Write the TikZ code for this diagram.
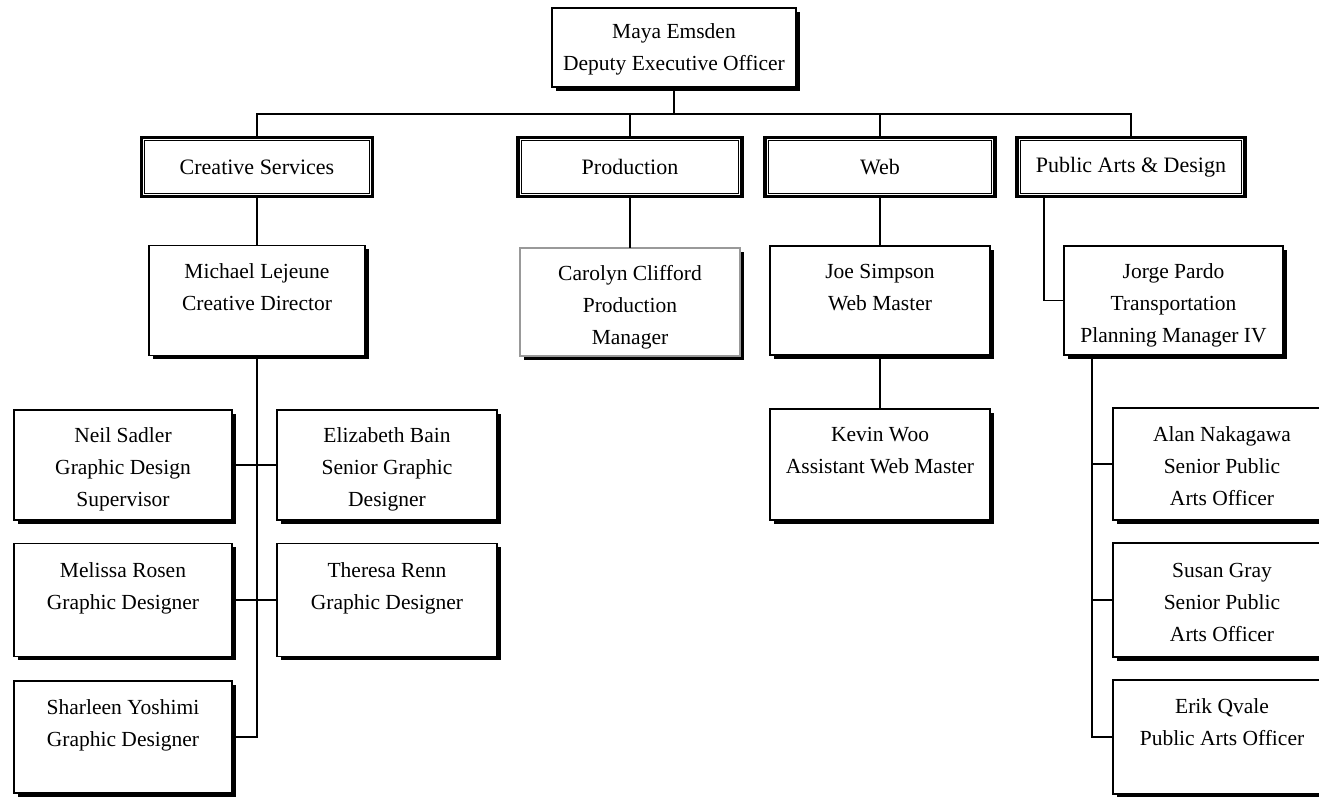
\documentclass[tikz,border=0pt]{standalone}
\usepackage{fontspec}
\setmainfont{Liberation Serif}
\usetikzlibrary{shadows}
\newcommand\ptx[1]{\parbox[t]{240pt}{\centering\fontsize{21.5}{32}\selectfont #1}}
\tikzset{
  pbox/.style={draw=black, line width=1.6pt, fill=white, rectangle, inner sep=0pt,
    drop shadow={shadow xshift=3.5pt, shadow yshift=-3.5pt, fill=black, opacity=1}},
  gbox/.style={pbox, draw=black!40, line width=2.4pt},
  dbox/.style={draw=black, line width=3.2pt, fill=white, rectangle, inner sep=0pt,
    font=\fontsize{22}{32}\selectfont},
  ptext/.style={anchor=base, inner sep=0pt},
  conn/.style={line width=1.8pt, line cap=rect}
}
\newcommand\inner[1]{\draw[line width=1pt] ([shift={(5pt,-5pt)}]#1.north west) rectangle ([shift={(-5pt,5pt)}]#1.south east);}
\begin{document}
\begin{tikzpicture}[x=1pt,y=-1pt]
\clip (0,0) rectangle (1319,796);
\fill[white] (0,0) rectangle (1319,796);
\coordinate (busy) at (0,114);
\coordinate (padx) at (1044,0);
\coordinate (rvx) at (1092,0);

% top
\node[pbox, minimum width=244pt, minimum height=79pt] (maya) at (674,47.5) {};
\node[ptext] (mayat) at (674,38) {\ptx{Maya Emsden\\Deputy Executive Officer}};

% level 1
\node[dbox, minimum width=231pt, minimum height=59pt] (cs) at (257,167) {Creative Services};
\node[dbox, minimum width=224pt, minimum height=59pt] (prod) at (630,167) {Production};
\node[dbox, minimum width=230pt, minimum height=59pt] (web) at (880,167) {Web};
\node[dbox, minimum width=228pt, minimum height=59pt] (pad) at (1131,167) {Public Arts \& Design};
\inner{cs}\inner{prod}\inner{web}\inner{pad}

\draw[conn] (maya.south) -- (maya.south |- busy);
\draw[conn] (cs.north) -- (cs.north |- busy) -- (pad.north |- busy) -- (pad.north);
\draw[conn] (prod.north) -- (prod.north |- busy);
\draw[conn] (web.north) -- (web.north |- busy);

% level 2
\node[pbox, minimum width=216pt, minimum height=110pt] (mich) at (257,300.5) {};
\node[ptext] (micht) at (257,278) {\ptx{Michael Lejeune\\Creative Director}};
\node[gbox, minimum width=220pt, minimum height=108pt] (caro) at (630,302) {};
\node[ptext] (carot) at (630,280) {\ptx{Carolyn Clifford\\Production\\Manager}};
\node[pbox, minimum width=220pt, minimum height=109pt] (joe) at (880,300.5) {};
\node[ptext] (joet) at (880,278) {\ptx{Joe Simpson\\Web Master}};
\node[pbox, minimum width=219pt, minimum height=109pt] (jorge) at (1173.5,300.5) {};
\node[ptext] (jorget) at (1173.5,278) {\ptx{Jorge Pardo\\Transportation\\Planning Manager IV}};

\draw[conn] (cs.south) -- (cs.south |- mich.north);
\draw[conn] (prod.south) -- (prod.south |- caro.north);
\draw[conn] (web.south) -- (web.south |- joe.north);
\draw[conn] (pad.south -| padx) |- (jorge.west);

% Kevin
\node[pbox, minimum width=220pt, minimum height=111pt] (kevin) at (880,464.5) {};
\node[ptext] (kevint) at (880,441) {\ptx{Kevin Woo\\Assistant Web Master}};
\draw[conn] (joe.south) -- (joe.south |- kevin.north);

% creative staff
\node[pbox, minimum width=218pt, minimum height=110pt] (neil) at (123,465) {};
\node[ptext] (neilt) at (123,442) {\ptx{Neil Sadler\\Graphic Design\\Supervisor}};
\node[pbox, minimum width=220pt, minimum height=110pt] (eliz) at (387,465) {};
\node[ptext] (elizt) at (387,442) {\ptx{Elizabeth Bain\\Senior Graphic\\Designer}};
\node[pbox, minimum width=218pt, minimum height=113pt] (meli) at (123,600) {};
\node[ptext] (melit) at (123,577) {\ptx{Melissa Rosen\\Graphic Designer}};
\node[pbox, minimum width=220pt, minimum height=113pt] (ther) at (387,600) {};
\node[ptext] (thert) at (387,577) {\ptx{Theresa Renn\\Graphic Designer}};
\node[pbox, minimum width=218pt, minimum height=112pt] (shar) at (123,737) {};
\node[ptext] (shart) at (123,714) {\ptx{Sharleen Yoshimi\\Graphic Designer}};

\draw[conn] (mich.south) -- (mich.south |- shar.east) -- (shar.east);
\draw[conn] (neil.east) -- (eliz.west);
\draw[conn] (meli.east) -- (ther.west);

% public arts staff
\node[pbox, minimum width=218pt, minimum height=112pt] (alan) at (1222,464) {};
\node[ptext] (alant) at (1222,441) {\ptx{Alan Nakagawa\\Senior Public\\Arts Officer}};
\node[pbox, minimum width=218pt, minimum height=114pt] (susan) at (1222,600) {};
\node[ptext] (susant) at (1222,577) {\ptx{Susan Gray\\Senior Public\\Arts Officer}};
\node[pbox, minimum width=218pt, minimum height=114pt] (erik) at (1222,737) {};
\node[ptext] (erikt) at (1222,713) {\ptx{Erik Qvale\\Public Arts Officer}};

\draw[conn] (jorge.south -| rvx) -- (rvx |- erik.west) -- (erik.west);
\draw[conn] (rvx |- alan.west) -- (alan.west);
\draw[conn] (rvx |- susan.west) -- (susan.west);
\end{tikzpicture}
\end{document}
